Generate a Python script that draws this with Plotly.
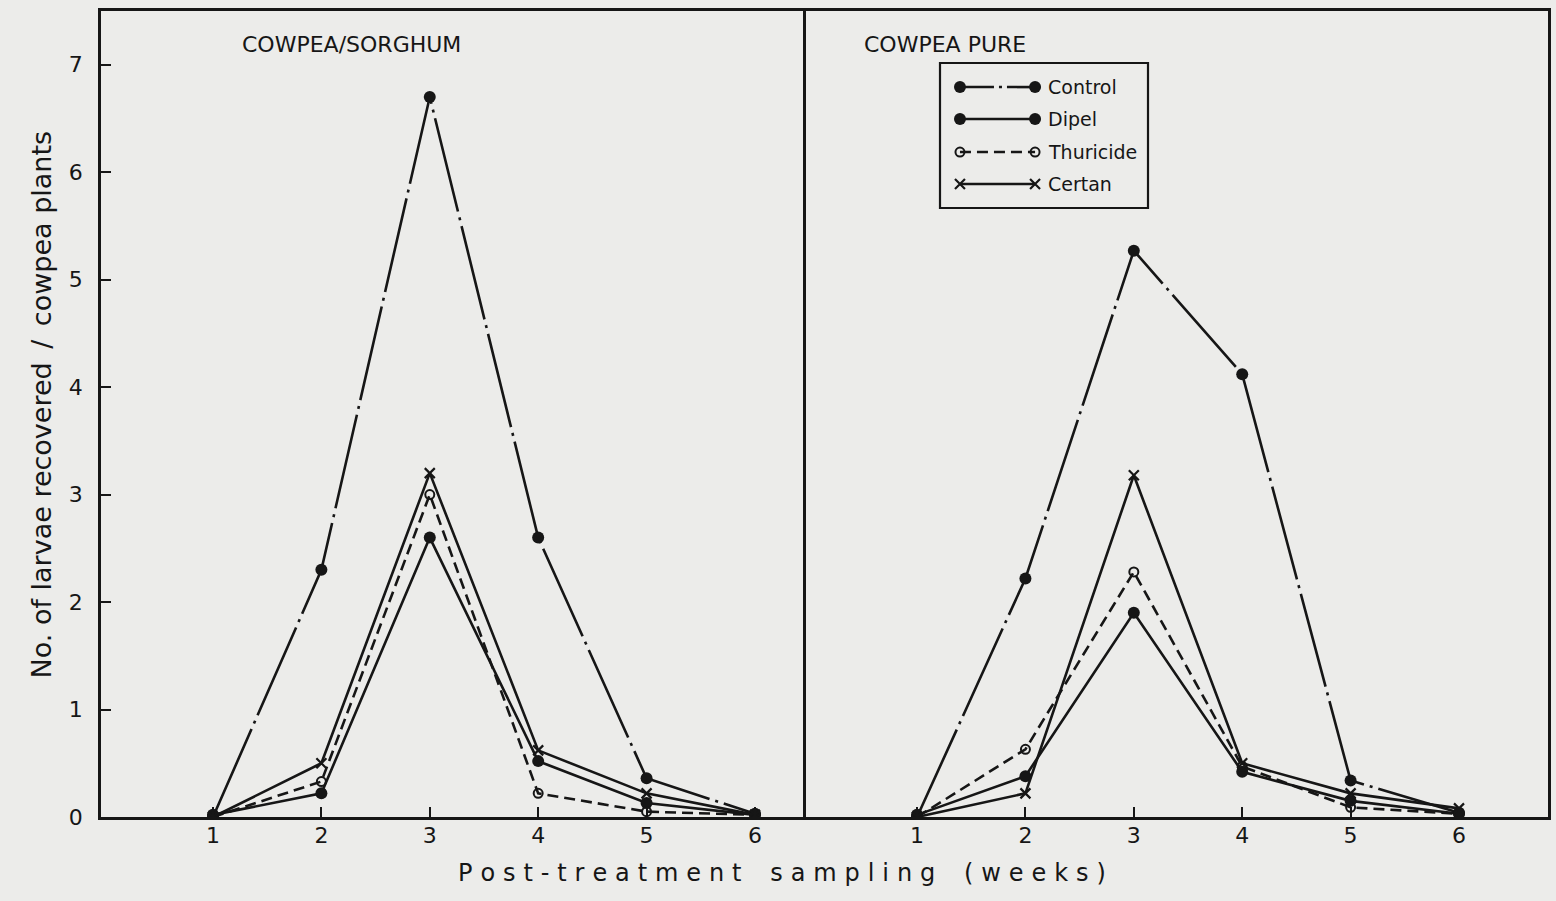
import plotly.graph_objects as go

# Sampling weeks after treatment
weeks = [1, 2, 3, 4, 5, 6]

# Mean number of larvae recovered per cowpea plant
sorghum_control = [0.0, 2.3, 6.7, 2.6, 0.36, 0.03]
sorghum_dipel = [0.02, 0.22, 2.6, 0.52, 0.13, 0.02]
sorghum_thuricide = [0.0, 0.33, 3.0, 0.22, 0.05, 0.02]
sorghum_certan = [0.0, 0.5, 3.2, 0.62, 0.22, 0.02]

pure_control = [0.0, 2.22, 5.27, 4.12, 0.34, 0.04]
pure_dipel = [0.02, 0.38, 1.9, 0.42, 0.15, 0.03]
pure_thuricide = [0.0, 0.63, 2.28, 0.47, 0.09, 0.03]
pure_certan = [0.0, 0.22, 3.18, 0.5, 0.22, 0.08]

treatments = ["Control", "Dipel", "Thuricide", "Certan"]
y_ticks = [0, 1, 2, 3, 4, 5, 6, 7]

FONT = "DejaVu Sans"
INK = "#161616"
BG = "#ececea"

styles = {
    "Control": dict(dash="96px,6px,3px,6px", symbol="circle", size=12, mline=0),
    "Dipel": dict(dash="solid", symbol="circle", size=12, mline=0),
    "Thuricide": dict(dash="11px,6px", symbol="circle-open", size=9, mline=2),
    "Certan": dict(dash="solid", symbol="x-thin-open", size=10, mline=2.2),
}

fig = go.Figure()


def add_series(name, yvals, xa, ya):
    s = styles[name]
    fig.add_trace(go.Scatter(
        x=weeks, y=yvals, mode="lines+markers", name=name, showlegend=False,
        xaxis=xa, yaxis=ya,
        line=dict(color=INK, width=2.6, dash=s["dash"]),
        marker=dict(symbol=s["symbol"], size=s["size"], color=INK,
                    line=dict(color=INK, width=s["mline"])),
    ))


for name, vals in zip(treatments, [sorghum_control, sorghum_dipel,
                                   sorghum_thuricide, sorghum_certan]):
    add_series(name, vals, "x", "y")
for name, vals in zip(treatments, [pure_control, pure_dipel,
                                   pure_thuricide, pure_certan]):
    add_series(name, vals, "x2", "y2")

# Key drawn inside a boxed area on its own unit axes
key_rows = [0.834, 0.614, 0.386, 0.166]
for name, yr in zip(treatments, key_rows):
    s = styles[name]
    fig.add_trace(go.Scatter(
        x=[0.096, 0.457], y=[yr, yr], mode="lines+markers", showlegend=False,
        xaxis="x3", yaxis="y3", hoverinfo="skip",
        line=dict(color=INK, width=2.6,
                  dash="34px,5px,3px,5px" if name == "Control" else s["dash"]),
        marker=dict(symbol=s["symbol"], size=s["size"], color=INK,
                    line=dict(color=INK, width=s["mline"])),
    ))
    fig.add_annotation(x=0.51, y=yr, xref="x3", yref="y3", text=name,
                       showarrow=False, xanchor="left", yanchor="middle",
                       font=dict(family=FONT, size=19, color=INK))

axis_common = dict(
    showline=True, linecolor=INK, linewidth=2.5,
    ticklen=10, tickwidth=2, tickcolor=INK,
    showgrid=False, zeroline=False,
    tickfont=dict(family=FONT, size=22, color=INK),
)

split = (803 - 101) / 1447

fig.update_layout(
    width=1556, height=901,
    margin=dict(l=101, r=8, t=11, b=84),
    paper_bgcolor=BG, plot_bgcolor=BG,
    xaxis=dict(domain=[0, split], range=[-0.033, 6.443], tickvals=weeks,
               ticks="inside", mirror=True, ticklabelstandoff=-3, **axis_common),
    yaxis=dict(domain=[0, 1], range=[0, 7.5], tickvals=y_ticks,
               ticks="inside", mirror=True, ticklabelstandoff=11, **axis_common),
    xaxis2=dict(domain=[split, 1], range=[-0.052, 6.821], tickvals=weeks,
                ticks="inside", mirror=True, anchor="y2", ticklabelstandoff=-3,
                **axis_common),
    yaxis2=dict(domain=[0, 1], range=[0, 7.5], tickvals=y_ticks, ticks="",
                side="right", anchor="x2", showticklabels=False, **axis_common),
    xaxis3=dict(domain=[(940 - 101) / 1447, (1148 - 101) / 1447], range=[0, 1],
                visible=False, anchor="y3"),
    yaxis3=dict(domain=[(817 - 208) / 806, (817 - 63) / 806], range=[0, 1],
                visible=False, anchor="x3"),
)

# Box around the key
fig.add_shape(type="rect", xref="paper", yref="paper",
              x0=(940 - 101) / 1447, x1=(1148 - 101) / 1447,
              y0=(817 - 208) / 806, y1=(817 - 63) / 806,
              line=dict(color=INK, width=2.2))

# Panel headings
fig.add_annotation(x=(240 - 101) / 1447, y=(817 - 45) / 806, xref="paper",
                   yref="paper", text="COWPEA/SORGHUM", showarrow=False,
                   xanchor="left", yanchor="middle",
                   font=dict(family=FONT, size=22, color=INK))
fig.add_annotation(x=(862 - 101) / 1447, y=(817 - 45) / 806, xref="paper",
                   yref="paper", text="COWPEA PURE", showarrow=False,
                   xanchor="left", yanchor="middle",
                   font=dict(family=FONT, size=22, color=INK))

# Axis titles
fig.add_annotation(x=(24 - 101) / 1447, y=(817 - 405) / 806, xref="paper",
                   yref="paper",
                   text="No. of larvae recovered\u2002/\u2002cowpea plants",
                   textangle=-90, showarrow=False,
                   font=dict(family=FONT, size=27, color=INK))

spaced = "\u2004".join
gap = "\u2003\u2009"
xtitle = (spaced("Post") + "\u2004-\u2004" + spaced("treatment") + gap
          + spaced("sampling") + gap + spaced("(weeks)"))
fig.add_annotation(x=(782 - 101) / 1447, y=(817 - 873) / 806, xref="paper",
                   yref="paper", text=xtitle, showarrow=False,
                   xanchor="center", yanchor="middle",
                   font=dict(family=FONT, size=24, color=INK))

fig.write_html("out.html")
